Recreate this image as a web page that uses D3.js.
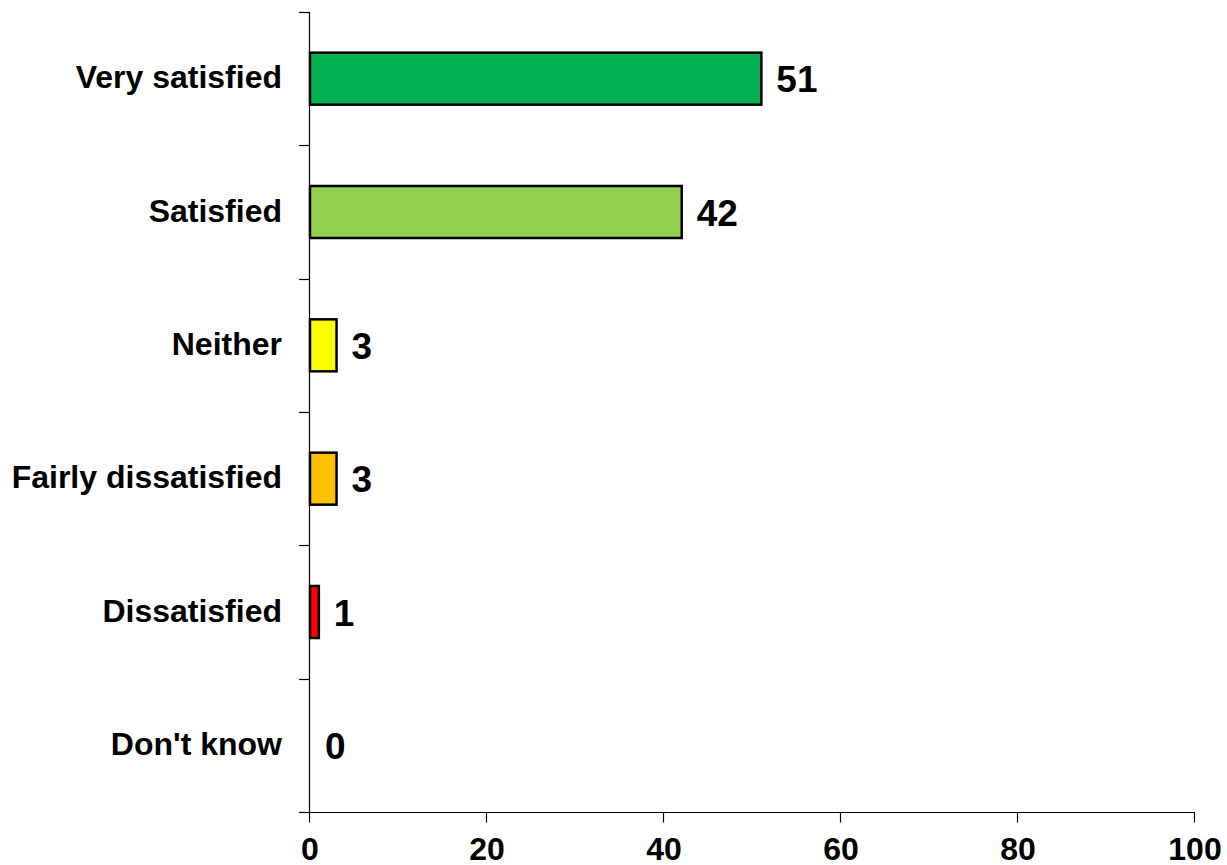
<!DOCTYPE html>
<html>
<head>
<meta charset="utf-8">
<script src="https://cdn.jsdelivr.net/npm/d3@7/dist/d3.min.js"></script>
<style>
  html, body { margin: 0; padding: 0; background: #fff; overflow: hidden; }
  svg { display: block; font-family: "Liberation Sans", Arial, sans-serif; }
</style>
</head>
<body>
<svg id="chart" width="1227" height="865"></svg>
<script>
// Satisfaction responses (%)
const categories = ["Very satisfied", "Satisfied", "Neither", "Fairly dissatisfied", "Dissatisfied", "Don't know"];
const values = [51, 42, 3, 3, 1, 0];
const barColors = ["#00B050", "#92D050", "#FFFF00", "#FFC000", "#FF0000", "#A6A6A6"];
const xTicks = [0, 20, 40, 60, 80, 100];

const svg = d3.select("#chart");
const plotLeft = 310, plotRight = 1195, plotTop = 12, plotBottom = 812;

const x = d3.scaleLinear().domain([0, 100]).range([plotLeft, plotRight]);
const y = d3.scaleBand().domain(categories).range([plotTop, plotBottom])
  .paddingInner(0.61).paddingOuter(0.305);
const step = y.step();

// Bars
svg.append("g").selectAll("rect")
  .data(categories)
  .join("rect")
  .attr("x", x(0))
  .attr("y", d => y(d))
  .attr("width", (d, i) => x(values[i]) - x(0))
  .attr("height", y.bandwidth())
  .attr("fill", (d, i) => barColors[i])
  .attr("stroke", (d, i) => values[i] > 0 ? "#000" : "none")
  .attr("stroke-width", 2.5);

// Value labels
svg.append("g").selectAll("text")
  .data(categories)
  .join("text")
  .attr("x", (d, i) => x(values[i]) + 15)
  .attr("y", d => y(d) + y.bandwidth() / 2 + 13.5)
  .attr("font-size", 37)
  .attr("font-weight", "bold")
  .attr("fill", "#000")
  .text((d, i) => values[i]);

// Category axis: vertical line with ticks at band boundaries
const yAxis = svg.append("g");
yAxis.append("line")
  .attr("x1", plotLeft - 0.5).attr("x2", plotLeft - 0.5)
  .attr("y1", plotTop).attr("y2", plotBottom)
  .attr("stroke", "#000").attr("stroke-width", 1.2);
const boundaries = d3.range(categories.length + 1).map(i => plotTop + i * step);
yAxis.selectAll("line.tick")
  .data(boundaries)
  .join("line")
  .attr("class", "tick")
  .attr("x1", plotLeft - 11).attr("x2", plotLeft - 0.5)
  .attr("y1", d => Math.round(d) + 0.5).attr("y2", d => Math.round(d) + 0.5)
  .attr("stroke", "#000").attr("stroke-width", 1.2);
yAxis.selectAll("text")
  .data(categories)
  .join("text")
  .attr("x", 282)
  .attr("y", d => y(d) + y.bandwidth() / 2 + 9.5)
  .attr("text-anchor", "end")
  .attr("font-size", 32)
  .attr("font-weight", "bold")
  .attr("fill", "#000")
  .text(d => d);

// Value axis
const xAxis = svg.append("g").attr("transform", `translate(0,${plotBottom + 0.5})`);
xAxis.append("line")
  .attr("x1", plotLeft - 11).attr("x2", plotRight)
  .attr("stroke", "#000").attr("stroke-width", 1.2);
xAxis.selectAll("line.tick")
  .data(xTicks)
  .join("line")
  .attr("class", "tick")
  .attr("x1", d => x(d) - 0.5).attr("x2", d => x(d) - 0.5)
  .attr("y1", 0).attr("y2", 10)
  .attr("stroke", "#000").attr("stroke-width", 1.2);
xAxis.selectAll("text")
  .data(xTicks)
  .join("text")
  .attr("x", d => x(d))
  .attr("y", 47)
  .attr("text-anchor", "middle")
  .attr("font-size", 32)
  .attr("font-weight", "bold")
  .attr("fill", "#000")
  .text(d => d);
</script>
</body>
</html>
